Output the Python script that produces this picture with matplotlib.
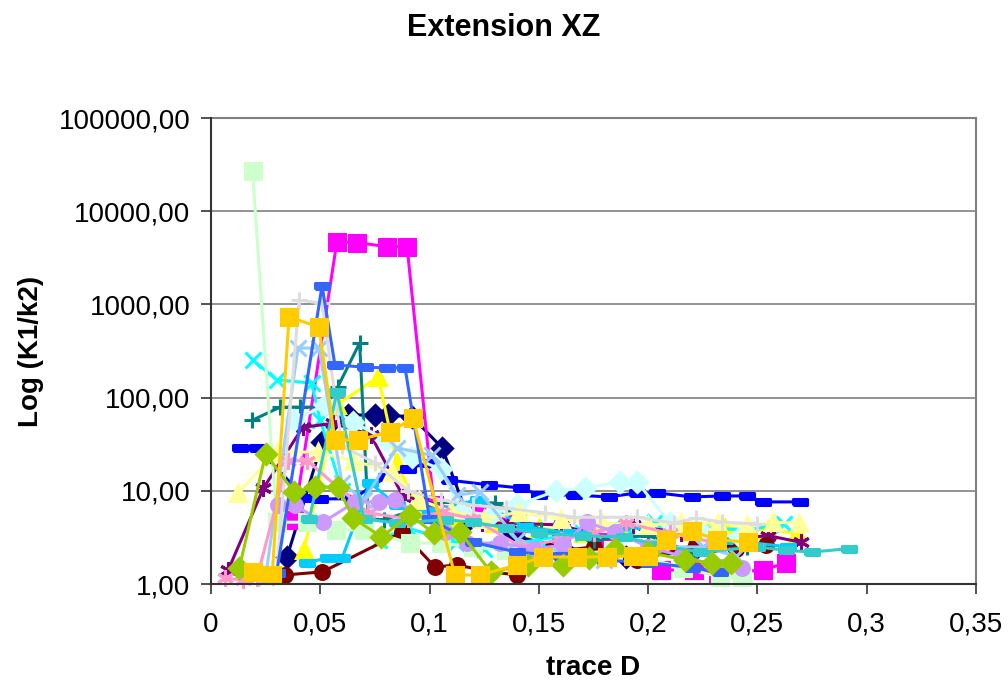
import matplotlib
matplotlib.use("Agg")
import matplotlib.pyplot as plt
from matplotlib.ticker import FixedLocator, FuncFormatter, NullLocator

plt.rcParams['font.family'] = ['Liberation Sans', 'DejaVu Sans']

title = "Extension XZ"
x_label = "trace D"
y_label = "Log (K1/k2)"
x_ticks = [0, 0.05, 0.1, 0.15, 0.2, 0.25, 0.3, 0.35]
y_ticks = [1, 10, 100, 1000, 10000, 100000]

# series 1: navy diamonds
navy_x = [0.0348, 0.0508, 0.0627, 0.075, 0.081, 0.092, 0.1057, 0.118, 0.138, 0.16, 0.19, 0.22, 0.24]
navy_y = [1.95, 33, 65, 65, 65, 62, 29, 5, 3.3, 2.5, 1.95, 2.2, 2.5]
# series 2: magenta squares
magenta_x = [0.038, 0.0576, 0.0668, 0.0805, 0.0897, 0.102, 0.123, 0.14, 0.16, 0.18, 0.206, 0.221, 0.232, 0.2525, 0.263]
magenta_y = [4.9, 4680, 4600, 4170, 4170, 7, 5.9, 4.5, 3.5, 3.0, 1.41, 1.41, 1.3, 1.41, 1.68]
# series 3: yellow triangles
yellow_x = [0.0425, 0.0575, 0.0765, 0.085, 0.095, 0.11, 0.13, 0.15, 0.17, 0.19, 0.21, 0.235, 0.255, 0.268]
yellow_y = [2.3, 83, 167, 20, 6, 5, 4.5, 4, 3.5, 4, 4.5, 4, 3.8, 3.5]
# series 4: cyan crosses
cyan_x = [0.0192, 0.030, 0.046, 0.05, 0.06, 0.077, 0.09, 0.112, 0.125, 0.15, 0.17, 0.19, 0.203, 0.225, 0.245, 0.262]
cyan_y = [253, 155, 143, 57, 10, 2.96, 4, 2.75, 2.4, 3, 3.5, 4, 4.6, 4, 3.8, 4.4]
# series 5: purple stars
purple_x = [0.0078, 0.024, 0.042, 0.056, 0.073, 0.088, 0.097, 0.11, 0.124, 0.136, 0.16, 0.173, 0.193, 0.215, 0.235, 0.255, 0.270]
purple_y = [1.4, 10.7, 48, 53, 40, 8.6, 8, 6, 4.5, 4.5, 4.3, 3.5, 4.3, 3.5, 3.0, 3.3, 2.8]
# series 6: maroon circles
maroon_x = [0.034, 0.051, 0.0875, 0.1025, 0.1125, 0.128, 0.14, 0.155, 0.175, 0.195, 0.222, 0.24, 0.254]
maroon_y = [1.25, 1.35, 3.6, 1.52, 1.6, 1.35, 1.25, 2.2, 2.5, 1.8, 2.6, 2.4, 2.6]
# series 7: teal plus
teal_x = [0.0188, 0.0316, 0.0407, 0.052, 0.058, 0.068, 0.072, 0.079, 0.105, 0.13, 0.151, 0.175, 0.2, 0.222, 0.245]
teal_y = [57, 79, 79, 79, 130, 385, 5, 4.9, 7.6, 7.4, 3.8, 3, 3.3, 2.1, 2.5]
# series 8: blue dashes
blue_x = [0.0133, 0.021, 0.043, 0.05, 0.065, 0.08, 0.09, 0.099, 0.109, 0.127, 0.142, 0.15, 0.166, 0.182, 0.195, 0.204, 0.22, 0.234, 0.245, 0.2525, 0.2695]
blue_y = [29, 29, 8.4, 8.2, 8.2, 14, 17, 20, 13, 11.6, 10.7, 9, 9, 8.6, 9.5, 9.5, 8.6, 8.8, 8.8, 7.6, 7.6]
# series 9: sky blue dashes
sky_x = [0.0438, 0.0535, 0.06, 0.0727, 0.085, 0.1, 0.122, 0.1436, 0.165, 0.188, 0.21, 0.235, 0.264]
sky_y = [1.7, 1.9, 1.9, 12.2, 7, 6, 8, 4.1, 3.5, 4.2, 3.5, 3.0, 2.5]
# series 10: light turquoise diamonds
lturq_x = [0.038, 0.052, 0.065, 0.08, 0.092, 0.105, 0.115, 0.128, 0.14, 0.158, 0.171, 0.187, 0.195, 0.21, 0.225, 0.242]
lturq_y = [57, 83, 55, 35, 23, 17, 6, 5.5, 7, 10, 10.7, 12.4, 12.4, 4.5, 3.5, 3.2]
# series 11: light green squares
lgreen_x = [0.019, 0.030, 0.044, 0.057, 0.070, 0.091, 0.105, 0.120, 0.135, 0.160, 0.184, 0.216, 0.233, 0.243]
lgreen_y = [27000, 4.6, 4.6, 3.8, 3.8, 2.75, 2.75, 2.5, 2.3, 2.0, 2.3, 1.5, 1.18, 1.18]
# series 12: pale yellow triangles
pyellow_x = [0.0124, 0.030, 0.049, 0.065, 0.083, 0.095, 0.11, 0.125, 0.141, 0.16, 0.179, 0.2, 0.215, 0.232, 0.245, 0.257, 0.269]
pyellow_y = [9.5, 26, 26, 21, 16, 8, 6, 5, 5.9, 5, 4.5, 4.3, 4.5, 4.5, 4.3, 4.6, 4.5]
# series 13: light blue crosses
lblue_x = [0.025, 0.0398, 0.0494, 0.06, 0.07, 0.085, 0.101, 0.1125, 0.123, 0.14, 0.16, 0.18, 0.2, 0.225, 0.24]
lblue_y = [1.2, 340, 340, 12, 8, 29, 24, 9, 9.7, 3, 2, 1.8, 2.5, 2.5, 2.0]
# series 14: pink stars
pink_x = [0.0064, 0.0146, 0.021, 0.035, 0.044, 0.060, 0.072, 0.09, 0.1057, 0.12, 0.142, 0.16, 0.175, 0.19, 0.21, 0.23]
pink_y = [1.16, 1.1, 1.15, 21, 21, 10, 5.8, 5, 5.9, 5, 2.5, 3, 3.5, 4.5, 3.5, 2.8]
# series 15: lavender circles
lav_x = [0.0307, 0.0384, 0.0512, 0.066, 0.077, 0.084, 0.107, 0.117, 0.132, 0.148, 0.161, 0.172, 0.185, 0.2, 0.215, 0.234, 0.243]
lav_y = [7, 7, 4.6, 7.6, 7.6, 8, 3.6, 2.75, 2.75, 2.4, 2.6, 4.6, 3.6, 2.5, 2, 1.52, 1.5]
# series 16: light gray plus
gray_x = [0.03, 0.0403, 0.0508, 0.06, 0.075, 0.09, 0.105, 0.12, 0.135, 0.153, 0.166, 0.178, 0.195, 0.212, 0.222, 0.234, 0.25]
gray_y = [1.3, 1115, 1030, 30, 20, 10, 8, 7, 6.5, 5.8, 5.2, 5.2, 5.2, 4.5, 5.1, 4.6, 4.4]
# series 17: medium blue dashes
mblue_x = [0.03, 0.0508, 0.0567, 0.0705, 0.0805, 0.0888, 0.1, 0.12, 0.14, 0.16, 0.18, 0.2, 0.22, 0.233]
mblue_y = [1.3, 1580, 224, 212, 208, 208, 5, 2.8, 2.2, 2.0, 1.8, 1.7, 1.5, 1.35]
# series 18: turquoise dashes
turq_x = [0.045, 0.0576, 0.07, 0.085, 0.107, 0.12, 0.135, 0.15, 0.17, 0.189, 0.205, 0.224, 0.25, 0.263, 0.275, 0.292]
turq_y = [5, 115, 5, 4.5, 4.9, 4.6, 4, 3.5, 3.3, 3.2, 2.6, 2.2, 2.5, 2.3, 2.2, 2.4]
# series 19: lime diamonds
lime_x = [0.013, 0.025, 0.038, 0.0476, 0.058, 0.065, 0.078, 0.091, 0.102, 0.114, 0.128, 0.145, 0.161, 0.173, 0.185, 0.2, 0.217, 0.229, 0.238]
lime_y = [1.5, 25, 9.7, 11, 11, 5.1, 3.2, 5.5, 3.5, 3.6, 1.35, 1.6, 1.6, 1.9, 2.4, 2.2, 1.8, 1.7, 1.7]
# series 20: gold squares
gold_x = [0.019, 0.028, 0.0357, 0.0494, 0.0567, 0.0673, 0.0819, 0.0924, 0.1116, 0.123, 0.14, 0.152, 0.1675, 0.181, 0.193, 0.2, 0.208, 0.22, 0.2315, 0.2457]
gold_y = [1.35, 1.25, 733, 572, 35, 35, 43, 60, 1.25, 1.25, 1.6, 1.95, 1.95, 1.95, 2.0, 2.0, 3.0, 3.7, 3.0, 2.8]

bar = [(-1, -0.38), (1, -0.38), (1, 0.38), (-1, 0.38), (-1, -0.38)]
star = (6, 2, 0)

series = [
    (navy_x, navy_y, '#000080', 'D', 10),
    (magenta_x, magenta_y, '#FF00FF', 's', 11),
    (yellow_x, yellow_y, '#FFFF00', '^', 11),
    (cyan_x, cyan_y, '#00FFFF', 'x', 11),
    (purple_x, purple_y, '#800080', star, 12),
    (maroon_x, maroon_y, '#800000', 'o', 10),
    (teal_x, teal_y, '#008080', '+', 12),
    (blue_x, blue_y, '#0000FF', bar, 10),
    (sky_x, sky_y, '#00CCFF', bar, 10),
    (lturq_x, lturq_y, '#CCFFFF', 'D', 10),
    (lgreen_x, lgreen_y, '#CCFFCC', 's', 11),
    (pyellow_x, pyellow_y, '#FFFF99', '^', 11),
    (lblue_x, lblue_y, '#99CCFF', 'x', 11),
    (pink_x, pink_y, '#FF99CC', star, 12),
    (lav_x, lav_y, '#CC99FF', 'o', 10),
    (gray_x, gray_y, '#DDDDDD', '+', 12),
    (mblue_x, mblue_y, '#3366FF', bar, 10),
    (turq_x, turq_y, '#33CCCC', bar, 10),
    (lime_x, lime_y, '#99CC00', 'D', 10),
    (gold_x, gold_y, '#FFCC00', 's', 11),
]

fig = plt.figure(figsize=(10.08, 6.83), dpi=100)
ax = fig.add_axes([211/1008, 1 - 584/683, (976 - 211)/1008, (584 - 118)/683])

for xs, ys, col, mk, ms in series:
    ax.plot(xs, ys, color=col, lw=2.2, marker=mk, markersize=ms,
            markerfacecolor=col, markeredgecolor=col, markeredgewidth=2.2,
            solid_joinstyle='miter', clip_on=False, zorder=3)

ax.set_yscale('log')
ax.set_ylim(1, 100000)
ax.set_xlim(0, 0.35)
ax.yaxis.set_major_locator(FixedLocator(y_ticks))
ax.yaxis.set_minor_locator(NullLocator())
ax.yaxis.set_major_formatter(FuncFormatter(lambda v, p: f"{v:.2f}".replace('.', ',')))
ax.xaxis.set_major_locator(FixedLocator(x_ticks))
ax.xaxis.set_major_formatter(FuncFormatter(lambda v, p: f"{v:g}".replace('.', ',')))

ax.grid(True, axis='y', color='#808080', lw=1.2, zorder=1)
ax.set_axisbelow(True)
for s in ['top', 'right']:
    ax.spines[s].set_color('#808080')
    ax.spines[s].set_linewidth(1.5)
for s in ['left', 'bottom']:
    ax.spines[s].set_color('#333333')
    ax.spines[s].set_linewidth(1.5)
    ax.spines[s].set_zorder(4)
ax.tick_params(axis='both', direction='out', length=7, width=1.2, color='#333333',
               labelsize=20, pad=8)
ax.tick_params(axis='x', pad=13)

fig.text(0.5, 1 - 28/683, title, ha='center', va='center', fontsize=22, fontweight='bold')
fig.text(31/1008, 1 - 351/683, y_label, ha='center', va='center', rotation=90,
         fontsize=20, fontweight='bold')
fig.text(593/1008, 1 - 668/683, x_label, ha='center', va='center', fontsize=20, fontweight='bold')

fig.savefig('out.png', dpi=100)
